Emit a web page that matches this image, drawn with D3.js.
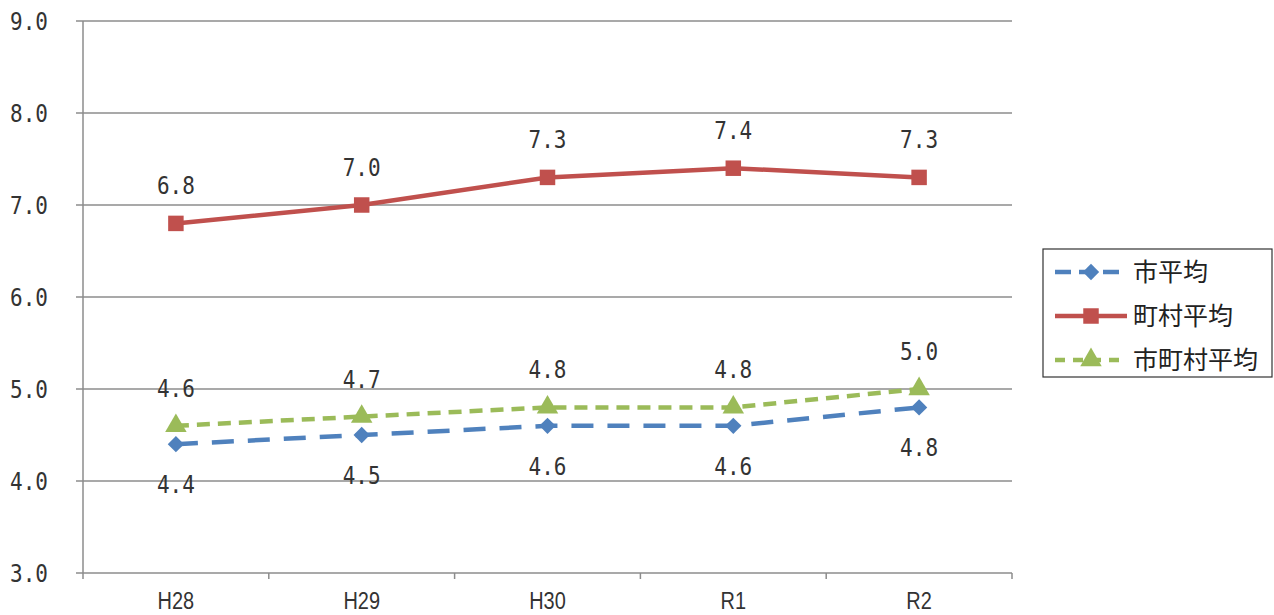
<!DOCTYPE html>
<html>
<head>
<meta charset="utf-8">
<script src="https://cdn.jsdelivr.net/npm/d3@7"></script>
<style>
  body { margin: 0; background: #fff; }
  svg { display: block; }
</style>
</head>
<body>
<svg id="chart"></svg>
<script>
const width = 1274, height = 615;

const years = ["H28", "H29", "H30", "R1", "R2"];
const shiAvg = [4.4, 4.5, 4.6, 4.6, 4.8];
const chosonAvg = [6.8, 7.0, 7.3, 7.4, 7.3];
const allAvg = [4.6, 4.7, 4.8, 4.8, 5.0];
const yTicks = [3, 4, 5, 6, 7, 8, 9];

const series = [
  {name: "市平均", values: shiAvg, color: "#4F81BD", dash: "22,14", marker: d3.symbolDiamond2, msize: 170, labelDy: 40},
  {name: "町村平均", values: chosonAvg, color: "#C0504D", dash: null, marker: d3.symbolSquare, msize: 240, labelDy: -38},
  {name: "市町村平均", values: allAvg, color: "#9BBB59", dash: "13,8", marker: d3.symbolTriangle, msize: 200, labelDy: -38}
];

const numFont = "'DejaVu Sans Mono', monospace";

const svg = d3.select("#chart").attr("width", width).attr("height", height);

const x = d3.scaleBand().domain(years).range([83, 1012]);
const y = d3.scaleLinear().domain([3, 9]).range([573, 21]);

// number text, drawn a little taller like the original gothic digits
function numText(sel) {
  sel.style("font", `21px ${numFont}`).attr("fill", "#333")
    .attr("transform", function() {
      const tx = +d3.select(this).attr("x"), ty = +d3.select(this).attr("y");
      return `translate(${tx},${ty}) scale(1,1.2) translate(${-tx},${-ty})`;
    });
}

// GRID
svg.append("g")
  .selectAll("line")
  .data(yTicks)
  .join("line")
    .attr("x1", 76).attr("x2", 1012)
    .attr("y1", d => y(d)).attr("y2", d => y(d))
    .attr("stroke", "#8c8c8c").attr("stroke-width", 1.5);

// Y AXIS
svg.append("line")
  .attr("x1", 83).attr("x2", 83).attr("y1", y(9)).attr("y2", y(3))
  .attr("stroke", "#8c8c8c").attr("stroke-width", 1.5);

svg.append("g")
  .selectAll("text")
  .data(yTicks)
  .join("text")
    .attr("x", 48).attr("y", d => y(d)).attr("dy", "0.36em")
    .attr("text-anchor", "end")
    .text(d => d.toFixed(1))
    .call(numText);

// X AXIS ticks at band edges
const edges = years.map(d => x(d)).concat([x.range()[1]]);
svg.append("g")
  .selectAll("line")
  .data(edges)
  .join("line")
    .attr("x1", d => d).attr("x2", d => d)
    .attr("y1", y(3)).attr("y2", y(3) + 6)
    .attr("stroke", "#8c8c8c").attr("stroke-width", 1.5);

svg.append("g")
  .selectAll("text")
  .data(years)
  .join("text")
    .attr("x", d => x(d) + x.bandwidth() / 2)
    .attr("y", 609)
    .attr("text-anchor", "middle")
    .style("font", "21px 'Liberation Sans Narrow', 'Liberation Sans', sans-serif")
    .attr("fill", "#333")
    .attr("transform", d => {
      const tx = x(d) + x.bandwidth() / 2;
      return `translate(${tx},609) scale(0.95,1.15) translate(${-tx},-609)`;
    })
    .text(d => d);

const cx = (d, i) => x(years[i]) + x.bandwidth() / 2;

const line = d3.line().x((d, i) => cx(d, i)).y(d => y(d));

// LINES + MARKERS
series.forEach(s => {
  const g = svg.append("g");
  g.append("path")
    .datum(s.values)
    .attr("d", line)
    .attr("fill", "none")
    .attr("stroke", s.color)
    .attr("stroke-width", 4.5)
    .attr("stroke-dasharray", s.dash);
  g.selectAll("path.m")
    .data(s.values)
    .join("path")
      .attr("class", "m")
      .attr("transform", (d, i) => `translate(${cx(d, i)},${y(d)})`)
      .attr("d", d3.symbol().type(s.marker).size(s.msize))
      .attr("fill", s.color);
  g.selectAll("text")
    .data(s.values)
    .join("text")
      .attr("x", (d, i) => cx(d, i))
      .attr("y", d => y(d) + s.labelDy)
      .attr("dy", "0.36em")
      .attr("text-anchor", "middle")
      .text(d => d.toFixed(1))
      .call(numText);
});

// LEGEND
const lg = svg.append("g");
lg.append("rect")
  .attr("x", 1043).attr("y", 249).attr("width", 229).attr("height", 128)
  .attr("fill", "#fff").attr("stroke", "#333").attr("stroke-width", 1.2);

const legendY = d3.scalePoint().domain(series.map(s => s.name)).range([272, 360]);
series.forEach(s => {
  const ly = legendY(s.name);
  lg.append("line")
    .attr("x1", 1055).attr("x2", 1127).attr("y1", ly).attr("y2", ly)
    .attr("stroke", s.color).attr("stroke-width", 4.5)
    .attr("stroke-dasharray", s.dash ? (s.name === "市平均" ? "16,8" : "10,8") : null);
  lg.append("path")
    .attr("transform", `translate(1091,${ly})`)
    .attr("d", d3.symbol().type(s.marker).size(s.msize))
    .attr("fill", s.color);
  lg.append("text")
    .attr("x", 1133).attr("y", ly).attr("dy", "0.36em")
    .style("font", "25px 'Noto Sans CJK JP', sans-serif")
    .attr("fill", "#222")
    .text(s.name);
});
</script>
</body>
</html>
